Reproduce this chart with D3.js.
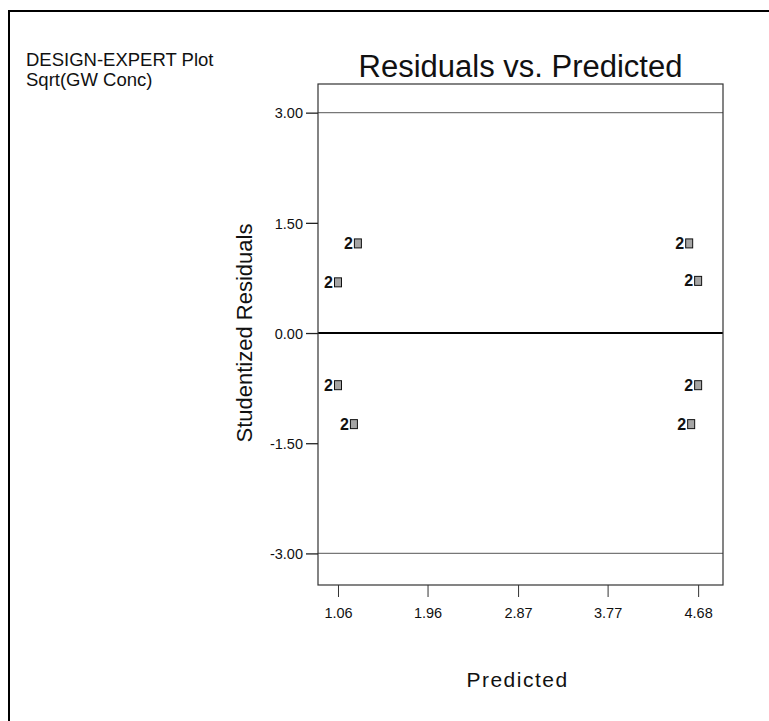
<!DOCTYPE html>
<html>
<head>
<meta charset="utf-8">
<script src="https://cdn.jsdelivr.net/npm/d3@7"></script>
<style>
  body { margin: 0; background: #fff; }
  text { font-family: "Liberation Sans", Arial, sans-serif; fill: #111; }
</style>
</head>
<body>
<svg width="769" height="721"></svg>
<script>
// points: predicted value, studentized residual, number of runs at the point
const predicted = [1.26, 1.06, 1.06, 1.22, 4.59, 4.68, 4.68, 4.61];
const residuals = [1.22, 0.69, -0.71, -1.24, 1.22, 0.71, -0.71, -1.24];
const counts = [2, 2, 2, 2, 2, 2, 2, 2];

const xTicks = [1.06, 1.96, 2.87, 3.77, 4.68];
const yTicks = [-3.00, -1.50, 0.00, 1.50, 3.00];
const limits = [-3.00, 3.00];

const title = 'Residuals vs. Predicted';
const plotInfo = ['DESIGN-EXPERT Plot', 'Sqrt(GW Conc)'];

const points = predicted.map((p, i) => ({x: p, y: residuals[i], n: counts[i]}));

const svg = d3.select('svg');
const box = {left: 318, right: 723, top: 84, bottom: 585};

const x = d3.scaleLinear()
  .domain([0.859, 4.93])
  .range([box.left, box.right]);

const y = d3.scaleLinear()
  .domain([-3.43, 3.39])
  .range([box.bottom, box.top]);

// outer frame (top and left edges only, as in the page)
svg.append('path')
  .attr('d', 'M9,721V11H769')
  .attr('fill', 'none')
  .attr('stroke', '#000')
  .attr('stroke-width', 2);

svg.selectAll('.info')
  .data(plotInfo)
  .enter().append('text')
    .attr('class', 'info')
    .attr('x', 26)
    .attr('y', (d, i) => 66 + i * 20)
    .attr('font-size', 18.5)
    .text(d => d);

svg.append('text')
  .attr('x', (box.left + box.right) / 2)
  .attr('y', 77)
  .attr('text-anchor', 'middle')
  .attr('font-size', 31)
  .text(title);

// limit lines at +-3
svg.selectAll('.limit')
  .data(limits)
  .enter().append('line')
    .attr('class', 'limit')
    .attr('x1', box.left)
    .attr('x2', box.right)
    .attr('y1', d => y(d))
    .attr('y2', d => y(d))
    .attr('stroke', '#777')
    .attr('stroke-width', 1.3);

svg.append('line')
  .attr('x1', box.left)
  .attr('x2', box.right)
  .attr('y1', y(0))
  .attr('y2', y(0))
  .attr('stroke', '#000')
  .attr('stroke-width', 2);

svg.append('rect')
  .attr('x', box.left)
  .attr('y', box.top)
  .attr('width', box.right - box.left)
  .attr('height', box.bottom - box.top)
  .attr('fill', 'none')
  .attr('stroke', '#333')
  .attr('stroke-width', 1.2);

const xAxis = svg.append('g')
  .attr('transform', `translate(0,${box.bottom})`)
  .call(d3.axisBottom(x)
    .tickValues(xTicks)
    .tickFormat(d3.format('.2f'))
    .tickSize(12));
xAxis.select('.domain').remove();
xAxis.selectAll('line').attr('stroke', '#333');
xAxis.selectAll('text')
  .attr('y', 33)
  .attr('dy', 0)
  .attr('font-size', 14.5)
  .attr('font-family', '"Liberation Sans", Arial, sans-serif')
  .attr('fill', '#111');

const yAxis = svg.append('g')
  .attr('transform', `translate(${box.left},0)`)
  .call(d3.axisLeft(y)
    .tickValues(yTicks)
    .tickFormat(d3.format('.2f'))
    .tickSize(12)
    .tickPadding(3));
yAxis.select('.domain').remove();
yAxis.selectAll('line').attr('stroke', '#222').attr('stroke-width', 1.3);
yAxis.selectAll('text')
  .attr('dy', '0.36em')
  .attr('font-size', 14.5)
  .attr('font-family', '"Liberation Sans", Arial, sans-serif')
  .attr('fill', '#111')
  .text(d => d3.format('.2f')(d).replace('−', '-'));

svg.append('text')
  .attr('transform', `translate(252,${y(0)}) rotate(-90)`)
  .attr('text-anchor', 'middle')
  .attr('font-size', 22)
  .text('Studentized Residuals');

svg.append('text')
  .attr('x', (box.left + box.right) / 2 - 3)
  .attr('y', 687)
  .attr('text-anchor', 'middle')
  .attr('font-size', 21)
  .attr('letter-spacing', 1.5)
  .text('Predicted');

const pt = svg.selectAll('.pt')
  .data(points)
  .enter().append('g')
    .attr('class', 'pt')
    .attr('transform', d => `translate(${x(d.x)},${y(d.y)})`);

pt.append('rect')
  .attr('x', -3.5)
  .attr('y', -4.5)
  .attr('width', 7)
  .attr('height', 9)
  .attr('fill', '#a5a5a5')
  .attr('stroke', '#111')
  .attr('stroke-width', 1);

pt.append('text')
  .attr('x', -5)
  .attr('y', 5.5)
  .attr('text-anchor', 'end')
  .attr('font-size', 16)
  .attr('font-weight', 'bold')
  .text(d => d.n);
</script>
</body>
</html>
